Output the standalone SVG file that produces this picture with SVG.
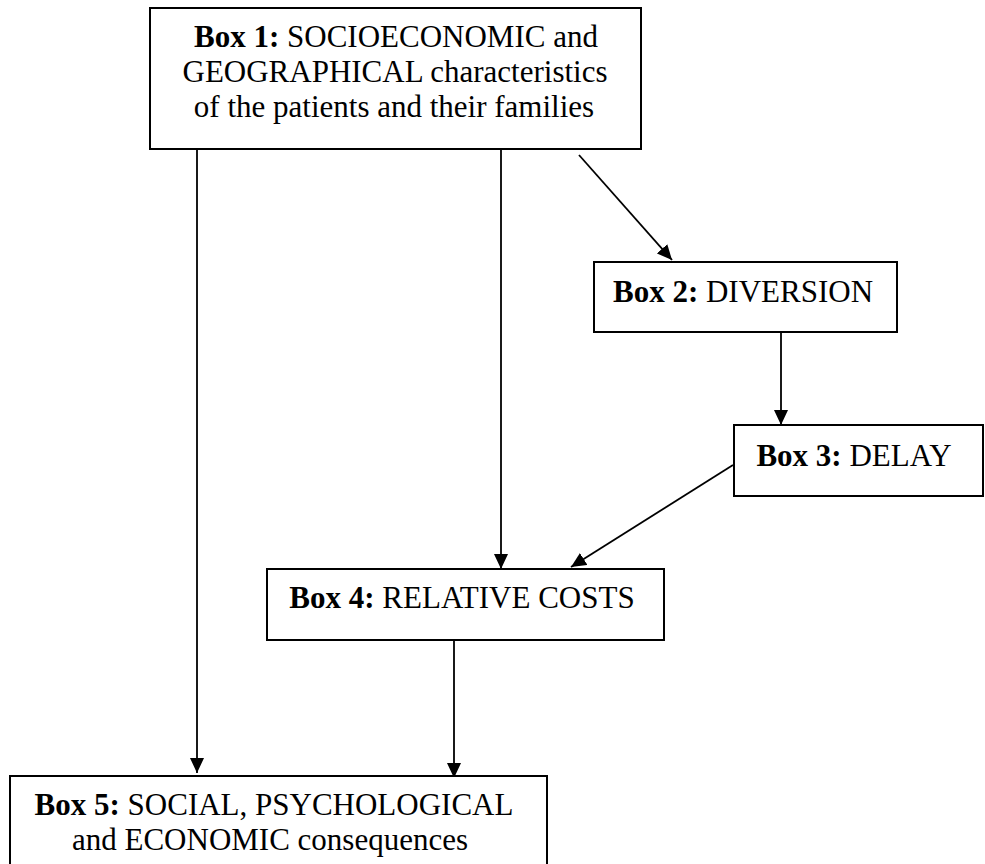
<svg xmlns="http://www.w3.org/2000/svg" width="985" height="864" viewBox="0 0 985 864">
  <style>
    .box { fill: #ffffff; stroke: #000000; stroke-width: 2; }
    .lbl { font-family: "Liberation Serif", "Times New Roman", serif; font-size: 31px; fill: #000000; text-anchor: middle; }
    .lbl .b { font-weight: bold; }
    .conn { stroke: #000000; stroke-width: 1.8; fill: none; marker-end: url(#arrow); }
  </style>
  <defs>
    <marker id="arrow" markerUnits="userSpaceOnUse" markerWidth="15" markerHeight="14" refX="15" refY="7" orient="auto">
      <path d="M0,0 L15,7 L0,14 z" fill="#000000"/>
    </marker>
  </defs>
  <rect width="985" height="864" fill="#ffffff"/>

  <g id="connectors">
    <line class="conn" x1="197" y1="150" x2="197" y2="773"/>
    <line class="conn" x1="501" y1="150" x2="501" y2="569"/>
    <line class="conn" x1="579" y1="155" x2="672" y2="260"/>
    <line class="conn" x1="781" y1="333" x2="781" y2="425"/>
    <line class="conn" x1="733" y1="465" x2="571" y2="567"/>
    <line class="conn" x1="454" y1="641" x2="454" y2="778"/>
  </g>

  <g id="box1">
    <rect class="box" x="150" y="8" width="491" height="141"/>
    <text class="lbl" x="396" y="47"><tspan class="b">Box 1:</tspan> SOCIOECONOMIC and</text>
    <text class="lbl" x="395" y="82">GEOGRAPHICAL characteristics</text>
    <text class="lbl" x="394" y="117">of the patients and their families</text>
  </g>

  <g id="box2">
    <rect class="box" x="594" y="262" width="303" height="70"/>
    <text class="lbl" x="743" y="302"><tspan class="b">Box 2:</tspan> DIVERSION</text>
  </g>

  <g id="box3">
    <rect class="box" x="734" y="425" width="249" height="71"/>
    <text class="lbl" x="854" y="466"><tspan class="b">Box 3:</tspan> DELAY</text>
  </g>

  <g id="box4">
    <rect class="box" x="267" y="569" width="397" height="71"/>
    <text class="lbl" x="462" y="608"><tspan class="b">Box 4:</tspan> RELATIVE COSTS</text>
  </g>

  <g id="box5">
    <rect class="box" x="10" y="776" width="537" height="100"/>
    <text class="lbl" x="274" y="815"><tspan class="b">Box 5:</tspan> SOCIAL, PSYCHOLOGICAL</text>
    <text class="lbl" x="270" y="850">and ECONOMIC consequences</text>
  </g>
</svg>
